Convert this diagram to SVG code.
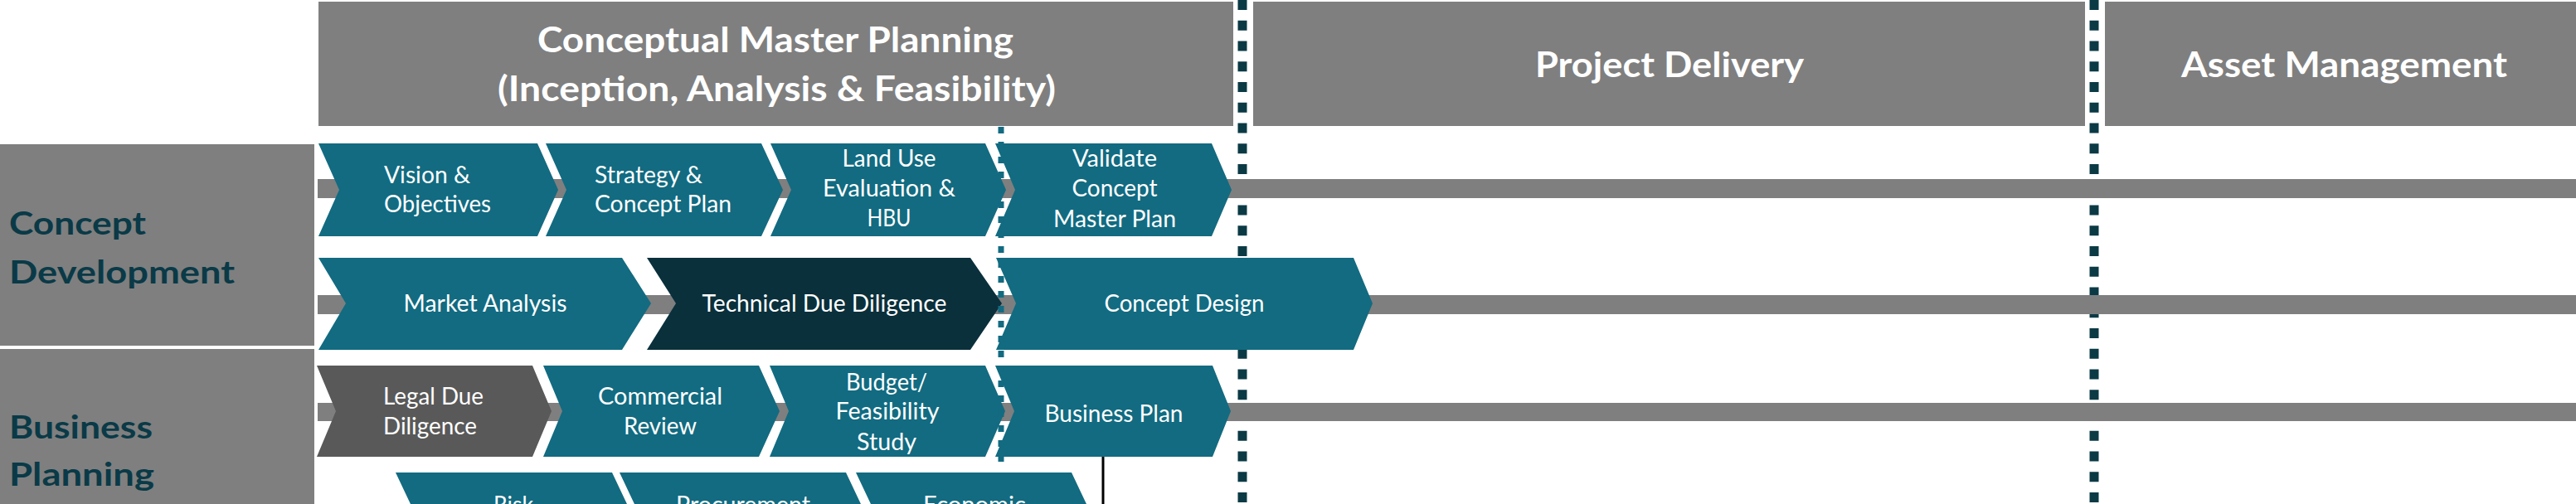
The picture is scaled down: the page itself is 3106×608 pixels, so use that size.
<svg xmlns="http://www.w3.org/2000/svg" width="3106" height="608" viewBox="0 0 3106 608">
<defs>
<style>
.hdr{fill:#7f7f7f}
.hdrt{font-family:Lato,"Liberation Sans",sans-serif;font-weight:bold;font-size:42px;fill:#fff;text-anchor:middle}
.lane{fill:#7f7f7f}
.lanet{font-family:Lato,"Liberation Sans",sans-serif;font-weight:bold;font-size:39px;fill:#0a3a47}
.bar{fill:#7f7f7f}
.teal{fill:#126b81}
.dark{fill:#0a303c}
.grey{fill:#595959}
.ct{font-family:Lato,"Liberation Sans",sans-serif;font-size:28px;fill:#fff;text-anchor:middle}
.cs{text-anchor:start}
.phase{stroke:#0b3a45;stroke-width:11;stroke-dasharray:12 12.75;fill:none}
.sub{stroke:#126b81;stroke-width:7;stroke-dasharray:8 10;fill:none}
</style>
</defs>
<rect x="0" y="0" width="3106" height="608" fill="#fff"/>

<g id="phase-dividers">
<line class="phase" x1="1498" y1="0" x2="1498" y2="608"/>
<line class="phase" x1="2525" y1="0" x2="2525" y2="608"/>
</g>

<g id="header-cmp">
<rect class="hdr" x="384" y="2" width="1103" height="150"/>
<text class="hdrt" x="935" y="63" textLength="574" lengthAdjust="spacingAndGlyphs">Conceptual Master Planning</text>
<text class="hdrt" x="936.5" y="122" textLength="673" lengthAdjust="spacingAndGlyphs">(Inception, Analysis &amp; Feasibility)</text>
</g>
<g id="header-pd">
<rect class="hdr" x="1511" y="2" width="1003" height="150"/>
<text class="hdrt" x="2013" y="93" textLength="324" lengthAdjust="spacingAndGlyphs">Project Delivery</text>
</g>
<g id="header-am">
<rect class="hdr" x="2538" y="2" width="568" height="150"/>
<text class="hdrt" x="2826.5" y="93" textLength="393" lengthAdjust="spacingAndGlyphs">Asset Management</text>
</g>

<g id="lane-concept">
<rect class="lane" x="0" y="174" width="379" height="243"/>
<text class="lanet" x="11" y="283" textLength="165" lengthAdjust="spacingAndGlyphs">Concept</text>
<text class="lanet" x="11" y="342" textLength="272" lengthAdjust="spacingAndGlyphs">Development</text>
</g>
<g id="lane-business">
<rect class="lane" x="0" y="421" width="379" height="187"/>
<text class="lanet" x="11" y="529" textLength="173" lengthAdjust="spacingAndGlyphs">Business</text>
<text class="lanet" x="11" y="586" textLength="175" lengthAdjust="spacingAndGlyphs">Planning</text>
</g>

<g id="connectors">
<rect class="bar" x="383" y="216" width="2723" height="23"/>
<rect class="bar" x="383" y="356" width="2723" height="23"/>
<rect class="bar" x="383" y="486" width="2723" height="22"/>
<line x1="1330" y1="551" x2="1330" y2="608" stroke="#000" stroke-width="3"/>
</g>

<g id="vision">
<polygon class="teal" points="384,173 648,173 673,229 648,285 384,285 409,229"/>
<text class="ct cs" x="463" y="221" textLength="104" lengthAdjust="spacingAndGlyphs">Vision &amp;</text>
<text class="ct cs" x="463" y="256" textLength="129" lengthAdjust="spacingAndGlyphs">Objectives</text>
</g>
<g id="strategy">
<polygon class="teal" points="658,173 918,173 944,229 918,285 658,285 683,229"/>
<text class="ct cs" x="717" y="221" textLength="130" lengthAdjust="spacingAndGlyphs">Strategy &amp;</text>
<text class="ct cs" x="717" y="256" textLength="165" lengthAdjust="spacingAndGlyphs">Concept Plan</text>
</g>
<g id="landuse">
<polygon class="teal" points="929,173 1188,173 1213,229 1188,285 929,285 954,229"/>
<text class="ct" x="1072" y="201" textLength="113" lengthAdjust="spacingAndGlyphs">Land Use</text>
<text class="ct" x="1072" y="237" textLength="160" lengthAdjust="spacingAndGlyphs">Evaluation &amp;</text>
<text class="ct" x="1072" y="273" textLength="53" lengthAdjust="spacingAndGlyphs">HBU</text>
</g>
<g id="validate">
<polygon class="teal" points="1200,173 1461,173 1485,229 1461,285 1200,285 1224,229"/>
<text class="ct" x="1344" y="201" textLength="102" lengthAdjust="spacingAndGlyphs">Validate</text>
<text class="ct" x="1344" y="237" textLength="103" lengthAdjust="spacingAndGlyphs">Concept</text>
<text class="ct" x="1344" y="274" textLength="148" lengthAdjust="spacingAndGlyphs">Master Plan</text>
</g>

<g id="market">
<polygon class="teal" points="384,311 750,311 785,366 750,422 384,422 417,366"/>
<text class="ct" x="585" y="376" textLength="197" lengthAdjust="spacingAndGlyphs">Market Analysis</text>
</g>
<g id="technical">
<polygon class="dark" points="780,311 1170,311 1208,366 1170,422 780,422 815,366"/>
<text class="ct" x="994" y="376" textLength="295" lengthAdjust="spacingAndGlyphs">Technical Due Diligence</text>
</g>
<g id="conceptdesign">
<polygon class="teal" points="1201,311 1632,311 1655,366 1632,422 1201,422 1225,366"/>
<text class="ct" x="1428" y="376" textLength="193" lengthAdjust="spacingAndGlyphs">Concept Design</text>
</g>

<g id="legal">
<polygon class="grey" points="382,441 642,441 665,496 642,551 382,551 405,496"/>
<text class="ct cs" x="462" y="488" textLength="121" lengthAdjust="spacingAndGlyphs">Legal Due</text>
<text class="ct cs" x="462" y="524" textLength="113" lengthAdjust="spacingAndGlyphs">Diligence</text>
</g>
<g id="commercial">
<polygon class="teal" points="655,441 915,441 940,496 915,551 655,551 678,496"/>
<text class="ct" x="796" y="488" textLength="150" lengthAdjust="spacingAndGlyphs">Commercial</text>
<text class="ct" x="796" y="524" textLength="88" lengthAdjust="spacingAndGlyphs">Review</text>
</g>
<g id="budget">
<polygon class="teal" points="928,441 1188,441 1212,496 1188,551 928,551 951,496"/>
<text class="ct" x="1069" y="471" textLength="98" lengthAdjust="spacingAndGlyphs">Budget/</text>
<text class="ct" x="1070" y="506" textLength="125" lengthAdjust="spacingAndGlyphs">Feasibility</text>
<text class="ct" x="1069" y="543" textLength="72" lengthAdjust="spacingAndGlyphs">Study</text>
</g>
<g id="businessplan">
<polygon class="teal" points="1200,441 1462,441 1484,496 1462,551 1200,551 1223,496"/>
<text class="ct" x="1343" y="509" textLength="167" lengthAdjust="spacingAndGlyphs">Business Plan</text>
</g>

<g id="risk">
<polygon class="teal" points="477,570 738,570 764,625 738,681 477,681 503,625"/>
<text class="ct" x="619" y="619" textLength="48" lengthAdjust="spacingAndGlyphs">Risk</text>
</g>
<g id="procurement">
<polygon class="teal" points="747,570 1020,570 1046,625 1020,681 747,681 773,625"/>
<text class="ct" x="896" y="619" textLength="162" lengthAdjust="spacingAndGlyphs">Procurement</text>
</g>
<g id="economic">
<polygon class="teal" points="1032,570 1292,570 1318,625 1292,681 1032,681 1058,625"/>
<text class="ct" x="1175" y="619" textLength="124" lengthAdjust="spacingAndGlyphs">Economic</text>
</g>

<g id="subphase-divider">
<line class="sub" x1="1207" y1="153" x2="1207" y2="563"/>
</g>
</svg>
